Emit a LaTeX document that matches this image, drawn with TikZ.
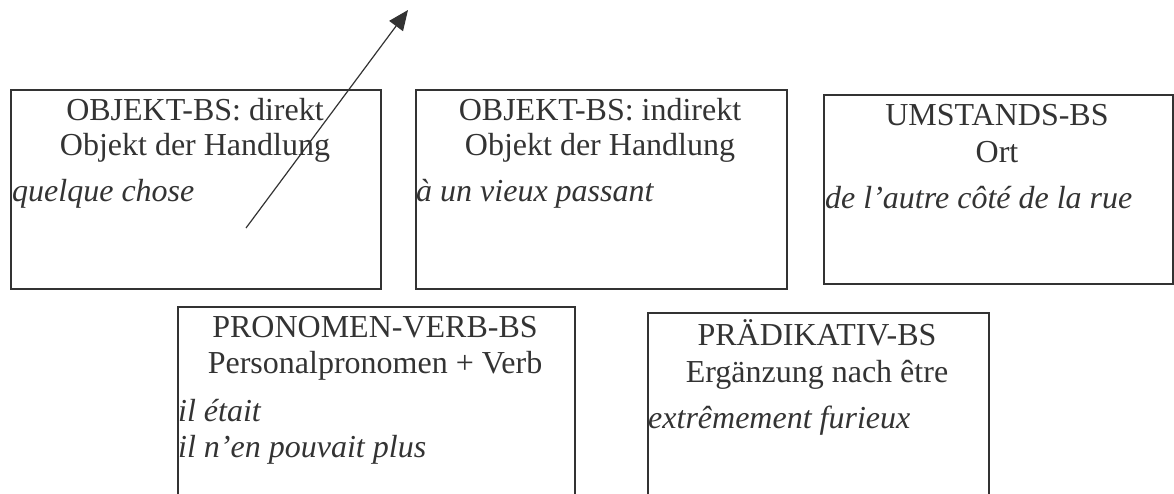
\documentclass[tikz,border=0pt]{standalone}
\usepackage{fontspec}
\setmainfont{Liberation Serif}
\usetikzlibrary{arrows.meta}
\definecolor{ink}{HTML}{333333}
\begin{document}
\begin{tikzpicture}[x=1pt,y=-1pt,
  box/.style={draw=ink, line width=1.6pt, anchor=north west, inner sep=0pt},
  head/.style={anchor=base, text=ink, inner sep=0pt, font=\fontsize{32}{37}\selectfont},
  ex/.style={anchor=base west, text=ink, inner sep=0pt, font=\fontsize{32}{37}\selectfont\itshape},
  pfeil/.style={draw=ink, line width=1.2pt, -{Triangle[length=20pt,width=17pt]}}]
\clip (0,0) rectangle (1174,493);
% boxes
\node[box, minimum width=370pt, minimum height=199pt] (b1) at (10,89) {};
\node[box, minimum width=371pt, minimum height=199pt] (b2) at (415,89) {};
\node[box, minimum width=349pt, minimum height=189pt] (b3) at (823,94) {};
\node[box, minimum width=397pt, minimum height=230pt] (b4) at (177,306) {};
\node[box, minimum width=341pt, minimum height=230pt] (b5) at (647,312) {};
% box 1
\node[head] (t1a) at (195,120) {OBJEKT-BS: direkt};
\node[head] (t1b) at (195,155) {Objekt der Handlung};
\node[ex] (t1c) at (12,201) {quelque chose};
% box 2
\node[head] (t2a) at (600,120) {OBJEKT-BS: indirekt};
\node[head] (t2b) at (600,155) {Objekt der Handlung};
\node[ex] (t2c) at (416,201) {à un vieux passant};
% box 3
\node[head] (t3a) at (997,125) {UMSTANDS-BS};
\node[head] (t3b) at (997,162) {Ort};
\node[ex] (t3c) at (825,208) {de l’autre côté de la rue};
% box 4
\node[head] (t4a) at (375,337) {PRONOMEN-VERB-BS};
\node[head] (t4b) at (375,373) {Personalpronomen + Verb};
\node[ex] (t4c) at (178,421) {il était};
\node[ex] (t4d) at (178,457) {il n’en pouvait plus};
% box 5
\node[head] (t5a) at (817,345) {PRÄDIKATIV-BS};
\node[head] (t5b) at (817,382) {Ergänzung nach être};
\node[ex] (t5c) at (648,428) {extrêmement furieux};
% arrow
\coordinate (as) at (246,228);
\coordinate (ae) at (408,10);
\draw[pfeil] (as) -- (ae);
\end{tikzpicture}
\end{document}
